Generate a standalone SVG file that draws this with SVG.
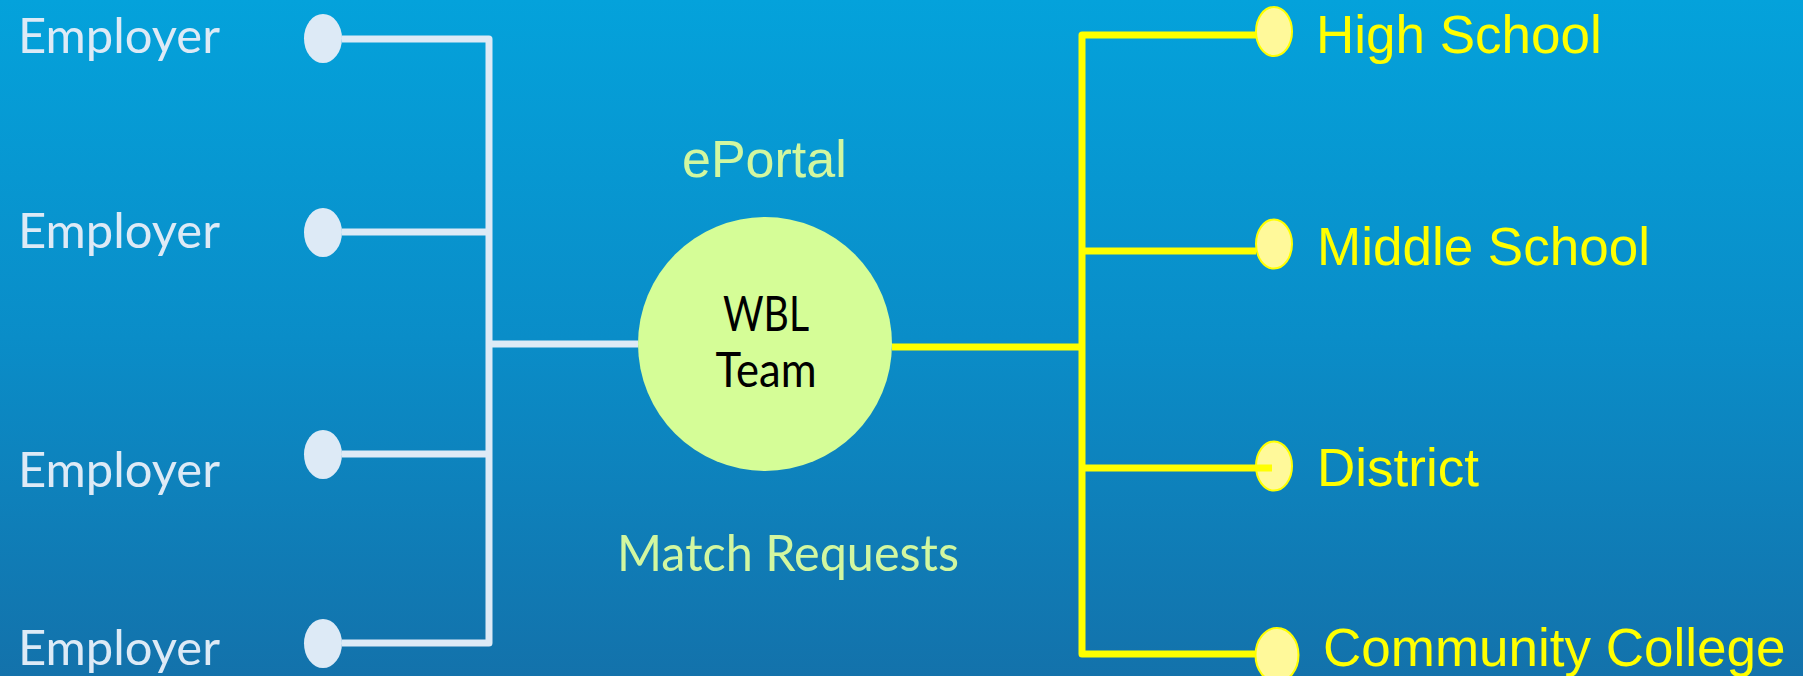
<svg xmlns="http://www.w3.org/2000/svg" width="1803" height="676" viewBox="0 0 1803 676">
  <defs>
    <linearGradient id="bg" x1="0" y1="0" x2="0" y2="1">
      <stop offset="0" stop-color="#04A2DB"/>
      <stop offset="0.5" stop-color="#0A8DC8"/>
      <stop offset="1" stop-color="#1372AB"/>
    </linearGradient>
  </defs>
  <style>
    .emp { fill: #DDEAF6; }
    .emp-t { fill: #DDEAF6; font-family: Lato, "Open Sans", sans-serif; font-size: 49px; }
    .sch { fill: #FFF99A; stroke: #FFFF00; stroke-width: 2; }
    .sch-t { fill: #FFFF00; font-family: "Liberation Sans", Arial, sans-serif; font-size: 53px; }
    .lw { fill: none; stroke: #DDEAF6; stroke-width: 7; stroke-linejoin: round; }
    .ly { fill: none; stroke: #FFFF00; stroke-width: 7; stroke-linejoin: round; }
    .green-t { fill: #D2F7A0; }
    .hub-t { fill: #000000; font-family: Lato, "Open Sans", sans-serif; font-size: 48px; text-anchor: middle; }
  </style>
  <rect x="0" y="0" width="1803" height="676" fill="url(#bg)"/>

  <g id="labels">
    <text class="green-t" x="682" y="177" font-family="Liberation Sans, Arial, sans-serif" font-size="52">ePortal</text>
    <text class="green-t" x="617" y="571" font-family="Lato, Open Sans, sans-serif" font-size="50" textLength="342" lengthAdjust="spacingAndGlyphs">Match Requests</text>
  </g>

  <g id="connectors">
    <path class="lw" d="M342 39 H489 V643 H342 M342 232 H489 M342 454 H489 M489 344 H638"/>
    <path class="ly" d="M892 347 H1082 M1256 35 H1082 V654 H1256 M1082 251 H1256 M1082 468 H1272"/>
  </g>

  <g id="hub">
    <circle cx="765" cy="344" r="127" fill="#D5FD97"/>
    <text class="hub-t" x="766" y="331" textLength="86" lengthAdjust="spacingAndGlyphs">WBL</text>
    <text class="hub-t" x="766" y="387" textLength="101" lengthAdjust="spacingAndGlyphs">Team</text>
  </g>

  <g id="employer1">
    <ellipse class="emp" cx="323" cy="38.5" rx="19" ry="24.5"/>
    <text class="emp-t" x="18" y="53" textLength="202" lengthAdjust="spacingAndGlyphs">Employer</text>
  </g>
  <g id="employer2">
    <ellipse class="emp" cx="323" cy="232.5" rx="19" ry="24.5"/>
    <text class="emp-t" x="18" y="248" textLength="202" lengthAdjust="spacingAndGlyphs">Employer</text>
  </g>
  <g id="employer3">
    <ellipse class="emp" cx="323" cy="454.5" rx="19" ry="24.5"/>
    <text class="emp-t" x="18" y="487" textLength="202" lengthAdjust="spacingAndGlyphs">Employer</text>
  </g>
  <g id="employer4">
    <ellipse class="emp" cx="323" cy="643.5" rx="19" ry="24.5"/>
    <text class="emp-t" x="18" y="665" textLength="202" lengthAdjust="spacingAndGlyphs">Employer</text>
  </g>

  <g id="high-school">
    <ellipse class="sch" cx="1274" cy="31.5" rx="18" ry="24.5"/>
    <text class="sch-t" x="1316" y="53">High School</text>
  </g>
  <g id="middle-school">
    <ellipse class="sch" cx="1274" cy="244" rx="18" ry="24.5"/>
    <text class="sch-t" x="1317" y="265">Middle School</text>
  </g>
  <g id="district">
    <ellipse class="sch" cx="1274" cy="466" rx="18" ry="24.5"/>
    <path class="ly" d="M1256 468 H1272"/>
    <text class="sch-t" x="1317" y="486">District</text>
  </g>
  <g id="community-college">
    <ellipse class="sch" cx="1277" cy="655" rx="21.5" ry="27"/>
    <text class="sch-t" x="1323" y="666">Community College</text>
  </g>
</svg>
